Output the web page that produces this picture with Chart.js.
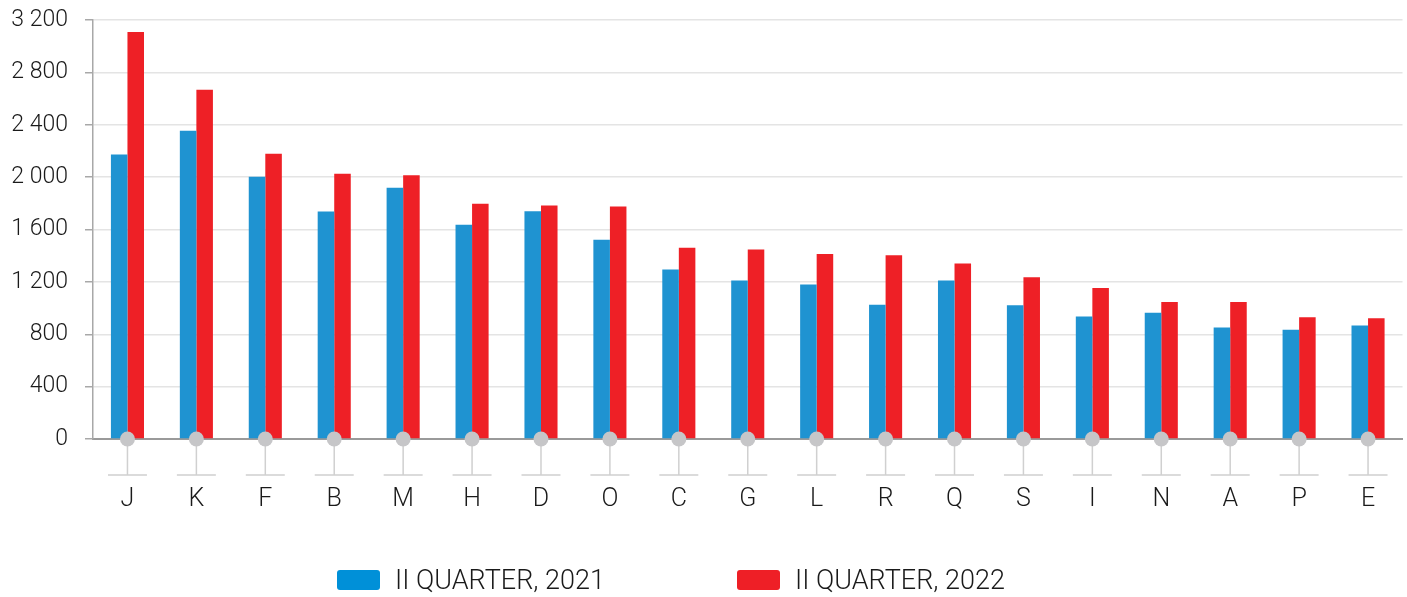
<!DOCTYPE html>
<html>
<head>
<meta charset="utf-8">
<script src="https://cdn.jsdelivr.net/npm/chart.js@4/dist/chart.umd.min.js"></script>
<style>
  html, body { margin: 0; padding: 0; background: #fff; }
  #wrap { position: relative; width: 1407px; height: 597px; }
  .lg { position: absolute; top: 565px; height: 30px; display: flex; align-items: center;
        font-family: Roboto, "Open Sans", sans-serif; font-weight: 300; font-size: 27px; color: #1a1a1a; white-space: nowrap; }
  .lg span.box { display: inline-block; width: 43px; height: 20px; border-radius: 3px; margin-right: 15px; }
</style>
</head>
<body>
<div id="wrap">
  <canvas id="barChart"></canvas>
  <div class="lg" style="left:337px"><span class="box" style="background:#0090d8"></span><span id="lg1"></span></div>
  <div class="lg" style="left:737px"><span class="box" style="background:#ee1f26"></span><span id="lg2"></span></div>
</div>
<script>
var categories = ['J', 'K', 'F', 'B', 'M', 'H', 'D', 'O', 'C', 'G', 'L', 'R', 'Q', 'S', 'I', 'N', 'A', 'P', 'E'];
var seriesNames = ['II QUARTER, 2021', 'II QUARTER, 2022'];
var q2021 = [2173, 2354, 2003, 1738, 1919, 1636, 1740, 1521, 1294, 1210, 1179, 1026, 1210, 1021, 936, 965, 851, 834, 866];
var q2022 = [3108, 2668, 2179, 2026, 2015, 1797, 1783, 1776, 1460, 1447, 1412, 1404, 1340, 1236, 1154, 1046, 1046, 930, 923];
var yMax = 3200;
var yStep = 400;

document.getElementById('lg1').textContent = seriesNames[0];
document.getElementById('lg2').textContent = seriesNames[1];

// grey dot on the zero line plus the "T" stem under each category
var stems = {
    id: 'stems',
    afterDatasetsDraw: function (chart) {
        var ctx = chart.ctx;
        var x = chart.scales.x, y = chart.scales.y;
        var y0 = y.getPixelForValue(0);
        ctx.save();
        categories.forEach(function (c, i) {
            var px = x.getPixelForValue(i);
            ctx.strokeStyle = '#d0d0d0';
            ctx.lineWidth = 1.5;
            ctx.beginPath();
            ctx.moveTo(px, y0);
            ctx.lineTo(px, y0 + 36);
            ctx.moveTo(px - 19.5, y0 + 36);
            ctx.lineTo(px + 19.5, y0 + 36);
            ctx.stroke();
            ctx.fillStyle = '#c6c6c8';
            ctx.beginPath();
            ctx.arc(px, y0, 7.5, 0, Math.PI * 2);
            ctx.fill();
        });
        ctx.restore();
    }
};

var ctx = document.getElementById('barChart').getContext('2d');
var chart = new Chart(ctx, {
    type: 'bar',
    data: {
        labels: categories,
        datasets: [{
            label: seriesNames[0],
            data: q2021,
            backgroundColor: '#1f93d1'
        }, {
            label: seriesNames[1],
            data: q2022,
            backgroundColor: '#ee2026'
        }]
    },
    options: {
        responsive: true,
        maintainAspectRatio: false,
        animation: false,
        datasets: {
            bar: { categoryPercentage: 0.48, barPercentage: 1.0 }
        },
        layout: { padding: { top: 20, right: 4.5, bottom: 0, left: 0 } },
        plugins: {
            legend: { display: false },
            tooltip: { enabled: false }
        },
        scales: {
            x: {
                grid: { display: true, drawOnChartArea: false, drawTicks: false },
                border: { display: true, color: '#9a9a9a', width: 2 },
                ticks: {
                    padding: 46,
                    color: '#1a1a1a',
                    font: { family: 'Roboto, "Open Sans", sans-serif', size: 25, weight: '300' }
                },
                afterFit: function (scale) {
                    scale.height = 158;
                    scale.paddingLeft = 0;
                    scale.paddingRight = 0;
                }
            },
            y: {
                min: 0,
                max: yMax,
                ticks: {
                    stepSize: yStep,
                    padding: 17,
                    color: '#1a1a1a',
                    font: { family: 'Roboto, "Open Sans", sans-serif', size: 23, weight: '300' },
                    callback: function (v) {
                        return String(v).replace(/\B(?=(\d{3})+(?!\d))/g, ' ');
                    }
                },
                grid: {
                    tickLength: 8,
                    lineWidth: 1.5,
                    color: function (c) { return c.tick && c.tick.value === 0 ? '#9a9a9a' : '#e4e4e4'; },
                    tickColor: '#a8a8a8'
                },
                border: { display: true, color: '#a8a8a8', width: 1.5 },
                afterFit: function (scale) {
                    scale.width = 93;
                    scale.paddingTop = 0;
                    scale.paddingBottom = 0;
                }
            }
        }
    },
    plugins: [stems]
});
</script>
</body>
</html>
